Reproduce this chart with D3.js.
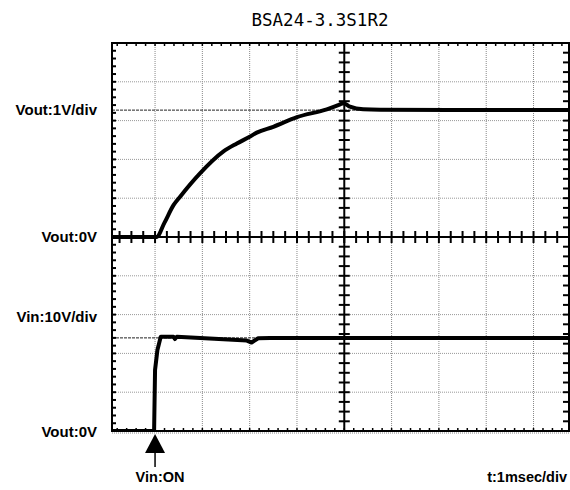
<!DOCTYPE html>
<html>
<head>
<meta charset="utf-8">
<script src="https://cdn.jsdelivr.net/npm/d3@7"></script>
<style>
  body { margin: 0; background: #fff; }
  svg { display: block; }
</style>
</head>
<body>
<div class="canvas"></div>
<script>
// values (time in msec, volts)
const voutTime  = [-0.91, 0.03, 0.2, 0.39, 0.53, 0.95, 1.44, 1.73, 2.01, 2.15, 2.5, 3.0, 3.63, 3.9, 3.98, 4.12, 4.4, 4.76, 8.75];
const voutVolts = [0, 0, 0.37, 0.82, 1.04, 1.64, 2.2, 2.41, 2.59, 2.69, 2.84, 3.09, 3.29, 3.41, 3.45, 3.36, 3.29, 3.28, 3.27];

const vinTime  = [-0.91, -0.02, 0.0, 0.05, 0.12, 0.39, 0.42, 0.46, 1.94, 2.04, 2.18, 2.43, 8.75];
const vinVolts = [0, 0, 15.7, 20.9, 24.3, 24.3, 23.7, 24.3, 23.3, 22.8, 23.9, 24.0, 24.0];

const voutRef = 3.27;   // marker level, upper half
const vinRef = 24;      // marker level, lower half

const timeGrid = [0, 1, 2, 3, 5, 6, 7, 8];
const voutGrid = [1, 2, 3, 4];
const vinGrid = [10, 20, 30, 40];

const title = 'BSA24-3.3S1R2';
const sideLabels = [
  { text: 'Vout:1V/div', ch: 'out', v: voutRef },
  { text: 'Vout:0V', ch: 'out', v: 0 },
  { text: 'Vin:10V/div', ch: 'in', v: 29.5 },
  { text: 'Vout:0V', ch: 'in', v: -0.3 }
];

const dims = { width: 570, height: 490 };
const plot = { left: 112, right: 569, top: 43, bottom: 431, mid: 237 };

const svg = d3.select('.canvas')
  .append('svg')
  .attr('width', dims.width)
  .attr('height', dims.height);

const x = d3.scaleLinear().domain([-0.91, 8.75]).range([plot.left, plot.right]);
const yOut = d3.scaleLinear().domain([0, 5]).range([plot.mid, plot.top]);
const yIn = d3.scaleLinear().domain([0, 50]).range([plot.bottom, plot.mid]);

svg.append('defs').append('clipPath').attr('id', 'clip')
  .append('rect')
  .attr('x', plot.left).attr('y', plot.top)
  .attr('width', plot.right - plot.left).attr('height', plot.bottom - plot.top);

const graph = svg.append('g');

// dotted grid
graph.selectAll('line.vgrid')
  .data(timeGrid)
  .enter().append('line')
  .attr('class', 'vgrid')
  .attr('x1', d => x(d)).attr('x2', d => x(d))
  .attr('y1', plot.top).attr('y2', plot.bottom)
  .attr('stroke', '#888').attr('stroke-width', 1).attr('stroke-dasharray', '1,1');

const hGrid = voutGrid.map(v => yOut(v)).concat(vinGrid.map(v => yIn(v)));
graph.selectAll('line.hgrid')
  .data(hGrid)
  .enter().append('line')
  .attr('class', 'hgrid')
  .attr('x1', plot.left).attr('x2', plot.right)
  .attr('y1', d => d).attr('y2', d => d)
  .attr('stroke', '#999').attr('stroke-width', 1).attr('stroke-dasharray', '1,1');

// marker levels
graph.selectAll('line.ref')
  .data([yOut(voutRef), yIn(vinRef)])
  .enter().append('line')
  .attr('class', 'ref')
  .attr('x1', plot.left).attr('x2', plot.right)
  .attr('y1', d => d).attr('y2', d => d)
  .attr('stroke', '#222').attr('stroke-width', 1).attr('stroke-dasharray', '3,1');

// ticks: quarter divisions on centre lines, fifths on borders
const divY = yOut(0) - yOut(1);
const tQuarter = d3.range(-3, 40).map(i => 4 + (i - 16) * 0.25).filter(t => x(t) > plot.left + 3 && x(t) < plot.right - 3);
const vQuarter = d3.range(1, 40).map(i => plot.top + i * divY / 4).filter(y => y < plot.bottom - 2);
const vFifth = d3.range(1, 50).map(i => plot.top + i * divY / 5).filter(y => y < plot.bottom - 2);
const tFifth = d3.range(-4, 45).map(i => i * 0.2).filter(t => x(t) > plot.left + 3 && x(t) < plot.right - 3);

const tickG = graph.append('g').attr('stroke', '#000').attr('stroke-width', 2);

tickG.selectAll('line.hx')
  .data(tQuarter).enter().append('line')
  .attr('x1', d => x(d)).attr('x2', d => x(d))
  .attr('y1', plot.mid - 6).attr('y2', plot.mid + 6);

tickG.selectAll('line.vy')
  .data(vQuarter).enter().append('line')
  .attr('x1', x(4) - 5.5).attr('x2', x(4) + 5.5)
  .attr('y1', d => d).attr('y2', d => d);

tickG.selectAll('line.ly')
  .data(vFifth).enter().append('line')
  .attr('x1', plot.left).attr('x2', plot.left + 4)
  .attr('y1', d => d).attr('y2', d => d);

tickG.selectAll('line.ry')
  .data(vQuarter).enter().append('line')
  .attr('x1', plot.right - 6).attr('x2', plot.right)
  .attr('y1', d => d).attr('y2', d => d);

tickG.selectAll('line.tx')
  .data(tFifth).enter().append('line')
  .attr('stroke-width', 1.5)
  .attr('x1', d => x(d)).attr('x2', d => x(d))
  .attr('y1', plot.top).attr('y2', plot.top + 3);

tickG.selectAll('line.bx')
  .data(tFifth).enter().append('line')
  .attr('stroke-width', 1.5)
  .attr('x1', d => x(d)).attr('x2', d => x(d))
  .attr('y1', plot.bottom - 3).attr('y2', plot.bottom);

// centre axes + frame
graph.append('line')
  .attr('x1', plot.left).attr('x2', plot.right)
  .attr('y1', plot.mid).attr('y2', plot.mid)
  .attr('stroke', '#000').attr('stroke-width', 2);
graph.append('line')
  .attr('x1', x(4)).attr('x2', x(4))
  .attr('y1', plot.top).attr('y2', plot.bottom)
  .attr('stroke', '#000').attr('stroke-width', 2);

graph.append('rect')
  .attr('x', plot.left).attr('y', plot.top)
  .attr('width', plot.right - plot.left).attr('height', plot.bottom - plot.top)
  .attr('fill', 'none').attr('stroke', '#000').attr('stroke-width', 2);
graph.append('line')
  .attr('x1', plot.left).attr('x2', plot.right)
  .attr('y1', plot.bottom + 2).attr('y2', plot.bottom + 2)
  .attr('stroke', '#888').attr('stroke-dasharray', '1,1');

// traces
const voutData = voutTime.map((t, i) => ({ t, v: voutVolts[i] }));
const vinData = vinTime.map((t, i) => ({ t, v: vinVolts[i] }));

const voutLine = d3.line().x(d => x(d.t)).y(d => yOut(d.v)).curve(d3.curveMonotoneX);
const vinLine = d3.line().x(d => x(d.t)).y(d => yIn(d.v));

const traces = graph.append('g').attr('clip-path', 'url(#clip)');
traces.append('path')
  .attr('d', voutLine(voutData))
  .attr('fill', 'none').attr('stroke', '#000').attr('stroke-width', 4)
  .attr('stroke-linejoin', 'round');
traces.append('path')
  .attr('d', vinLine(vinData))
  .attr('fill', 'none').attr('stroke', '#000').attr('stroke-width', 4)
  .attr('stroke-linejoin', 'round');

// texts
svg.append('text')
  .attr('x', 320).attr('y', 26)
  .attr('text-anchor', 'middle')
  .style('font-family', '"DejaVu Sans Mono", monospace')
  .style('font-size', '17.5px')
  .text(title);

svg.selectAll('text.side')
  .data(sideLabels).enter().append('text')
  .attr('class', 'side')
  .attr('x', 97)
  .attr('y', d => (d.ch === 'out' ? yOut(d.v) : yIn(d.v)))
  .attr('dy', '0.35em')
  .attr('text-anchor', 'end')
  .style('font-family', '"Liberation Sans", Arial, sans-serif')
  .style('font-weight', 'bold')
  .style('font-size', '15px')
  .text(d => d.text);

// Vin:ON arrow
const ax = x(0);
svg.append('path')
  .attr('d', `M${ax},${plot.bottom + 3} L${ax - 10},${plot.bottom + 22} L${ax + 10},${plot.bottom + 22} Z`)
  .attr('fill', '#000');
svg.append('line')
  .attr('x1', ax).attr('x2', ax)
  .attr('y1', plot.bottom + 20).attr('y2', plot.bottom + 36)
  .attr('stroke', '#000').attr('stroke-width', 1.5);

svg.append('text')
  .attr('x', ax + 5).attr('y', 482)
  .attr('text-anchor', 'middle')
  .style('font-family', '"Liberation Sans", Arial, sans-serif')
  .style('font-weight', 'bold').style('font-size', '14.5px')
  .text('Vin:ON');

svg.append('text')
  .attr('x', 567).attr('y', 482)
  .attr('text-anchor', 'end')
  .style('font-family', '"Liberation Sans", Arial, sans-serif')
  .style('font-weight', 'bold').style('font-size', '14.5px')
  .text('t:1msec/div');
</script>
</body>
</html>
